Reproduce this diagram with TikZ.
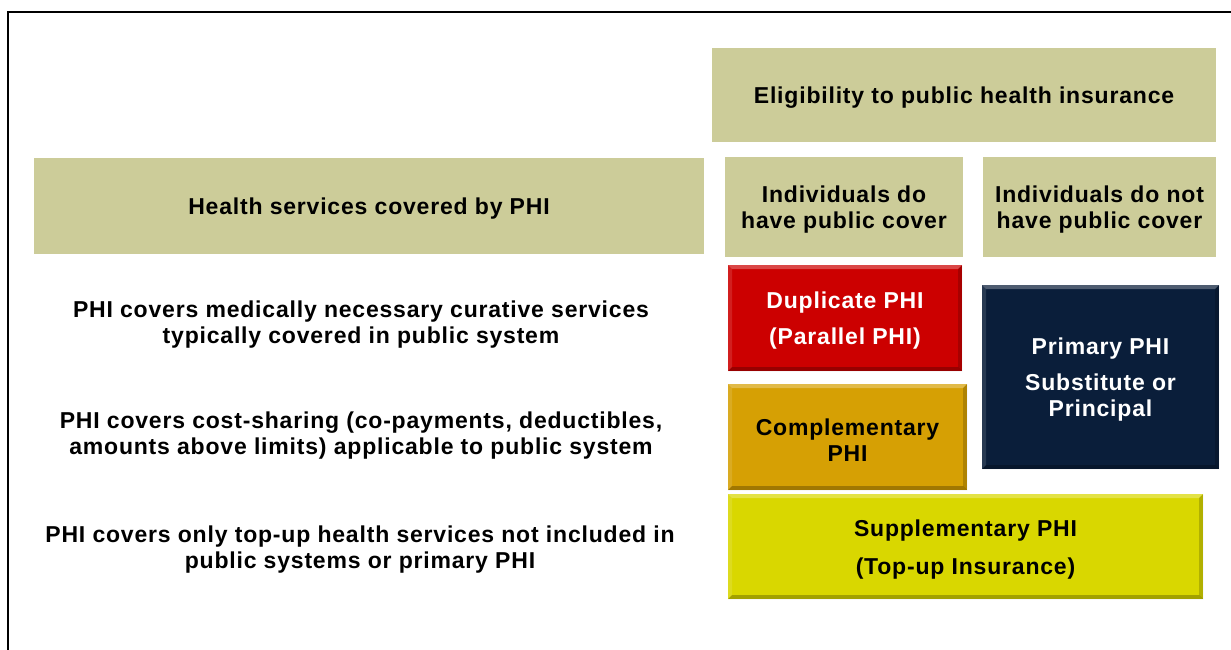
\documentclass[tikz,border=0pt]{standalone}
\usepackage{fontspec}
\setmainfont{Liberation Sans}[LetterSpace=3.5]
\begin{document}
\begin{tikzpicture}[x=1pt,y=-1pt,
  every node/.style={font=\bfseries\fontsize{23}{26}\selectfont, align=center, inner sep=0pt},
  bevel/.style={
    path picture={
      \coordinate (nw) at (path picture bounding box.north west);
      \coordinate (se) at (path picture bounding box.south east);
      \coordinate (ne) at (path picture bounding box.north east);
      \coordinate (sw) at (path picture bounding box.south west);
      \fill[white,opacity=.28] (nw) -- (ne) -- ([shift={(-4pt,-4pt)}]ne) -- ([shift={(4pt,-4pt)}]nw) -- cycle;
      \fill[white,opacity=.12] (nw) -- (sw) -- ([shift={(4pt,4pt)}]sw) -- ([shift={(4pt,-4pt)}]nw) -- cycle;
      \fill[black,opacity=.25] (sw) -- (se) -- ([shift={(-4pt,4pt)}]se) -- ([shift={(4pt,4pt)}]sw) -- cycle;
      \fill[black,opacity=.18] (ne) -- (se) -- ([shift={(-4pt,4pt)}]se) -- ([shift={(-4pt,-4pt)}]ne) -- cycle;
    }},
  boxtext/.style={yshift=-3pt},
  rowtext/.style={font=\bfseries\fontsize{23}{26}\selectfont}
]
\definecolor{khaki}{RGB}{204,204,153}
\definecolor{dupred}{RGB}{204,0,0}
\definecolor{compgold}{RGB}{214,160,4}
\definecolor{navy}{RGB}{10,30,58}
\definecolor{suppyellow}{RGB}{217,215,0}

\useasboundingbox (0,0) rectangle (1231,650);
% page frame, open to the right and bottom
\draw[line width=1.5pt] (8,652) -- (8,12) -- (1233,12);

% column and row headers
\node[fill=khaki, minimum width=504pt, minimum height=94pt] (elig) at (964,95) {};
\node[boxtext] (elig-t) at (elig) {Eligibility to public health insurance};
\node[fill=khaki, minimum width=670pt, minimum height=96pt] (hs) at (369,206) {};
\node[boxtext] (hs-t) at (hs) {Health services covered by PHI};
\node[fill=khaki, minimum width=238pt, minimum height=100pt] (withcov) at (844,207) {};
\node[boxtext] (withcov-t) at (withcov) {Individuals do\\have public cover};
\node[fill=khaki, minimum width=233pt, minimum height=100pt] (nocov) at (1099.5,207) {};
\node[boxtext] (nocov-t) at (nocov) {Individuals do not\\have public cover};

% row descriptions
\node[rowtext] (r1) at (361,325)
  {PHI covers medically necessary curative services\\typically covered in public system};
\node[rowtext] (r2) at (361,436)
  {PHI covers cost-sharing (co-payments, deductibles,\\amounts above limits) applicable to public system};
\node[rowtext] (r3) at (360,550)
  {PHI covers only top-up health services not included in\\public systems or primary PHI};

% PHI types
\node[fill=dupred, bevel, minimum width=234pt, minimum height=106pt] (dup) at (845,318) {};
\node[boxtext, text=white, font=\bfseries\fontsize{23}{36}\selectfont] (dup-t) at (dup)
  {Duplicate PHI\\(Parallel PHI)};
\node[fill=compgold, bevel, minimum width=239pt, minimum height=106pt] (comp) at (847.5,437) {};
\node[boxtext, text=black] (comp-t) at (comp) {Complementary\\PHI};
\node[fill=navy, bevel, minimum width=237pt, minimum height=184pt] (prim) at (1100.5,377) {};
\node[boxtext, text=white] (prim-t) at (prim) {Primary PHI\\[10pt]Substitute or\\Principal};
\node[fill=suppyellow, bevel, minimum width=475pt, minimum height=105pt] (supp) at (965.5,546.5) {};
\node[boxtext, text=black, font=\bfseries\fontsize{23}{38}\selectfont] (supp-t) at (supp)
  {Supplementary PHI\\(Top-up Insurance)};
\end{tikzpicture}
\end{document}
